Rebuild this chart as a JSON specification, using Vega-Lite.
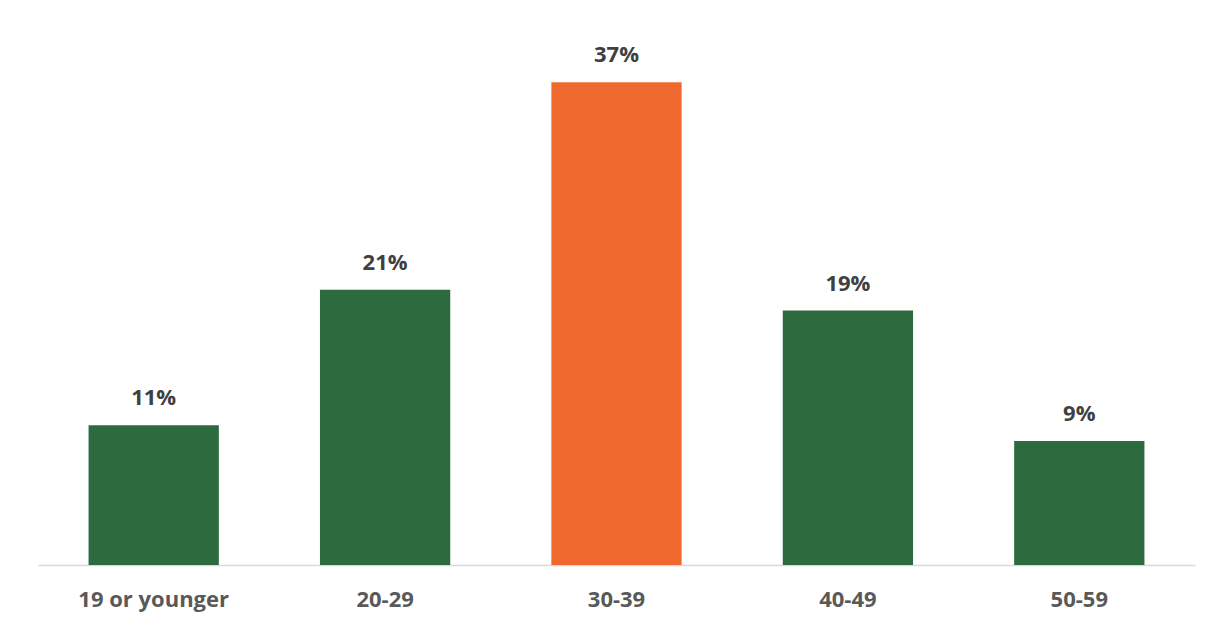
{
  "$schema": "https://vega.github.io/schema/vega-lite/v6.json",
  "autosize": "none",
  "width": 1157,
  "height": 522,
  "padding": {"left": 38, "top": 43, "right": 19, "bottom": 61},
  "background": "white",
  "config": {"view": {"stroke": null}, "font": "Open Sans"},
  "data": {
    "values": [
      {"age": "19 or younger", "pct": 10.7, "label": "11%", "hl": "no"},
      {"age": "20-29", "pct": 21.1, "label": "21%", "hl": "no"},
      {"age": "30-39", "pct": 37.0, "label": "37%", "hl": "yes"},
      {"age": "40-49", "pct": 19.5, "label": "19%", "hl": "no"},
      {"age": "50-59", "pct": 9.5, "label": "9%", "hl": "no"}
    ]
  },
  "encoding": {
    "x": {
      "field": "age", "type": "nominal", "sort": null,
      "scale": {"paddingInner": 0.437, "paddingOuter": 0.2185},
      "axis": {
        "title": null, "labelAngle": 0, "ticks": false,
        "domainColor": "#d9d9d9", "domainWidth": 1.5,
        "labelFont": "Open Sans", "labelFontSize": 22, "labelFontWeight": "bold",
        "labelColor": "#595959", "labelPadding": 24
      }
    },
    "y": {
      "field": "pct", "type": "quantitative",
      "scale": {"domain": [0, 40], "nice": false},
      "axis": null
    }
  },
  "layer": [
    {
      "mark": {"type": "bar"},
      "encoding": {
        "color": {
          "field": "hl", "type": "nominal",
          "scale": {"domain": ["no", "yes"], "range": ["#2d6a3d", "#f06a30"]},
          "legend": null
        }
      }
    },
    {
      "mark": {"type": "text", "baseline": "alphabetic", "dy": -20, "font": "Open Sans", "fontSize": 22, "fontWeight": "bold", "color": "#404040"},
      "encoding": {"text": {"field": "label"}}
    }
  ]
}
